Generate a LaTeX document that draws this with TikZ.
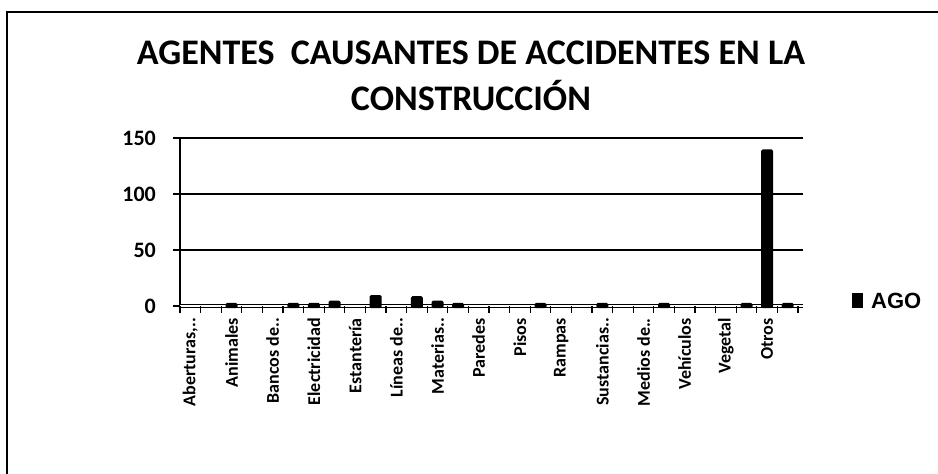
\documentclass[tikz,border=0pt]{standalone}
\usepackage{fontspec}
\setmainfont{Carlito}
\newfontfamily\legendfont{Liberation Sans}
\tikzset{
  gridline/.style={line width=1.6pt},
  zeroline/.style={line width=1.6pt,double=white,double distance=1.2pt},
  catlabel/.style={rotate=90,anchor=east,inner sep=0pt,font=\bfseries\fontsize{18}{18}\selectfont},
  vallabel/.style={anchor=east,inner sep=0pt,font=\bfseries\fontsize{22}{22}\selectfont},
  titletext/.style={anchor=base,inner sep=0pt,font=\bfseries\fontsize{36}{36}\selectfont},
  chartbar/.style={fill=black,rounded corners=1.5pt}
}
\begin{document}
\begin{tikzpicture}[x=1pt,y=-1pt]
 \useasboundingbox (0,0) rectangle (938,474);
 \draw[line width=1.2pt](7,474)--(7,12)--(938,12); 
 \node[titletext] (title1) at (471,64) {AGENTES\ \ CAUSANTES DE ACCIDENTES EN LA}; 
 \node[titletext] (title2) at (471,110) {CONSTRUCCIÓN}; 
 \draw[gridline](180,138)--(180,306); 
 \foreach \v/\y in {50/250,100/194,150/138}{
  \draw[gridline](173,\y)--(803,\y); 
  \node[vallabel] (val\v) at (156,\y) {\v}; 
 }
 \draw[gridline](173,306)--(180,306); 
 \draw[zeroline](180,306)--(803,306); 
 \node[vallabel] (val0) at (156,306) {0}; 
 \foreach \i in {0,...,30}
  \draw[line width=1.2pt]({180+\i*20.6},306)--++(0,7); 
 \foreach \k/\h in {3/1,6/1,7/1,8/3,10/8,12/7,13/3,14/1,18/1,21/1,24/1,28/1,29/138,30/1}
  \fill[chartbar]({180+(\k-0.5)*20.6-6},308)rectangle({180+(\k-0.5)*20.6+6},{306-1.12*\h-2}); 
 \foreach \lab [count=\k] in {{Aberturas,..},Animales,{Bancos de..},Electricidad,Estantería,{Líneas de..},{Materias..},Paredes,Pisos,Rampas,{Sustancias..},{Medios de..},Vehículos,Vegetal,Otros}
  \node[catlabel] (cat\k) at ({180+(2*\k-1.5)*20.6},318) {\lab}; 
 \fill[black](852,293)rectangle(863,308); 
 \node[anchor=west,inner sep=0pt,font=\legendfont\bfseries\fontsize{22}{22}\selectfont] (legend) at (871,300.5) {AGO}; 
\end{tikzpicture}
\end{document}
